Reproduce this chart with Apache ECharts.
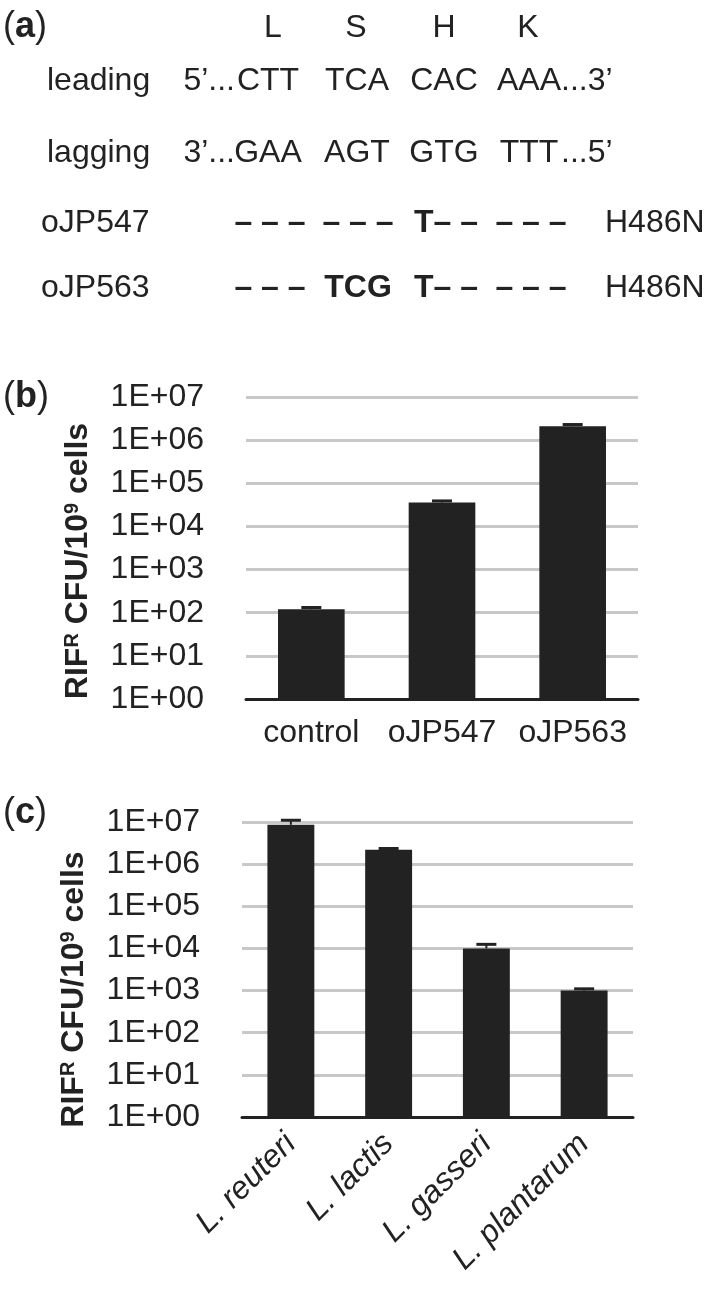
<!DOCTYPE html>
<html>
<head>
<meta charset="utf-8">
<script src="https://cdn.jsdelivr.net/npm/echarts@6.0.0/dist/echarts.min.js"></script>
<style>
  html, body { margin: 0; padding: 0; background: #fff; }
  #chart { width: 716px; height: 1290px; }
</style>
</head>
<body>
<div id="chart"></div>
<script>
// panel (a): sequence alignment
const aminoAcids = ['L', 'S', 'H', 'K'];
const leadingCodons = ['CTT', 'TCA', 'CAC', 'AAA'];
const laggingCodons = ['GAA', 'AGT', 'GTG', 'TTT'];
const oligoNames = ['oJP547', 'oJP563'];
const oligoCodons = [
  ['– – –', '– – –', 'T– –', '– – –'],
  ['– – –', 'TCG', 'T– –', '– – –']
];
const oligoMutations = ['H486N', 'H486N'];

// panel (b)
const bCategories = ['control', 'oJP547', 'oJP563'];
const bValues = [120, 36000, 2100000];
const bErrUpper = [132, 39000, 2300000];

// panel (c)
const cCategories = ['L. reuteri', 'L. lactis', 'L. gasseri', 'L. plantarum'];
const cValues = [8600000, 2200000, 10000, 1000];
const cErrUpper = [11000000, 2350000, 12500, 1100];

const FONT = 'Liberation Sans';
const INK = '#222';
const AFONT = '32px "' + FONT + '"';
const colX = [273, 356, 444, 528];
const codonX = [268, 357, 444, 529];

const chart = echarts.init(document.getElementById('chart'));

// texte du panneau (a)
const txt = (x, y, s, opts) => ({
  type: 'text', x: x, y: y, silent: true,
  style: Object.assign({
    text: s, fill: INK, font: AFONT,
    align: 'left', verticalAlign: 'middle'
  }, opts || {})
});

const panelLabel = (letter, y) => ({
  type: 'text', x: 3, y: y, silent: true,
  style: {
    text: '{p|(}{b|' + letter + '}{p|)}', fill: INK,
    verticalAlign: 'middle',
    rich: {
      p: { fontSize: 36, fontFamily: FONT, fill: INK },
      b: { fontSize: 36, fontFamily: FONT, fontWeight: 'bold', fill: INK }
    }
  }
});

const graphics = [panelLabel('a', 27), panelLabel('b', 397), panelLabel('c', 813)];

aminoAcids.forEach((aa, i) => graphics.push(txt(colX[i], 28, aa, { align: 'center' })));

graphics.push(txt(47, 81, 'leading'));
graphics.push(txt(235, 81, '5’...', { align: 'right' }));
leadingCodons.forEach((c, i) => graphics.push(txt(codonX[i], 81, c, { align: 'center' })));
graphics.push(txt(561, 81, '...3’'));

graphics.push(txt(47, 153, 'lagging'));
graphics.push(txt(235, 153, '3’...', { align: 'right' }));
laggingCodons.forEach((c, i) => graphics.push(txt(codonX[i], 153, c, { align: 'center' })));
graphics.push(txt(561, 153, '...5’'));

const oligoY = [223, 288];
const oligoX = [270, 358, 446, 531];
oligoNames.forEach((name, r) => {
  graphics.push(txt(41, oligoY[r], name));
  oligoCodons[r].forEach((c, i) => graphics.push(
    txt(oligoX[i], oligoY[r], c, { align: 'center', font: 'bold ' + AFONT })
  ));
  graphics.push(txt(605, oligoY[r], oligoMutations[r]));
});

const decade = v => '1E+' + String(Math.round(Math.log10(v))).padStart(2, '0');

const yName = '{b|RIF}{s|R}{b| CFU/10}{s|9}{b| cells}';
const yNameStyle = padTop => ({
  color: INK,
  padding: [0, padTop, 0, 0],
  rich: {
    b: { fontSize: 32, fontWeight: 'bold', fontFamily: FONT, color: INK },
    s: { fontSize: 20, fontWeight: 'bold', fontFamily: FONT, color: INK, verticalAlign: 'top' }
  }
});

const makeY = (idx, padTop) => ({
  type: 'log', logBase: 10, gridIndex: idx, min: 1, max: 1e7,
  axisLine: { show: false },
  axisTick: { show: false },
  splitLine: { show: true, lineStyle: { color: '#c8c8c8', width: 3 } },
  axisLabel: { fontSize: 32, fontFamily: FONT, color: INK, margin: 42, formatter: decade },
  name: yName, nameLocation: 'middle', nameRotate: 90, nameGap: 152,
  nameTextStyle: yNameStyle(padTop)
});

const errorSeries = (idx, values, upper) => ({
  type: 'custom',
  xAxisIndex: idx, yAxisIndex: idx,
  z: 5,
  data: values.map((v, i) => [i, v, upper[i]]),
  renderItem: (params, api) => {
    const base = api.coord([api.value(0), api.value(1)]);
    const top = api.coord([api.value(0), api.value(2)]);
    return {
      type: 'group',
      children: [
        { type: 'line', shape: { x1: base[0], y1: base[1], x2: top[0], y2: top[1] },
          style: { stroke: INK, lineWidth: 2 } },
        { type: 'line', shape: { x1: top[0] - 10, y1: top[1], x2: top[0] + 10, y2: top[1] },
          style: { stroke: INK, lineWidth: 3 } }
      ]
    };
  }
});

const option = {
  animation: false,
  backgroundColor: '#fff',
  graphic: graphics,
  grid: [
    { left: 246, top: 397, width: 392, height: 302 },
    { left: 242, top: 822, width: 391, height: 295 }
  ],
  xAxis: [
    {
      type: 'category', gridIndex: 0, data: bCategories,
      axisLine: { lineStyle: { color: INK, width: 3 } },
      axisTick: { show: false },
      axisLabel: { fontSize: 32, fontFamily: FONT, color: INK, margin: 18, interval: 0,
                   hideOverlap: false }
    },
    {
      type: 'category', gridIndex: 1, data: cCategories,
      axisLine: { lineStyle: { color: INK, width: 3 } },
      axisTick: { show: false },
      axisLabel: { fontSize: 32, fontFamily: FONT, fontStyle: 'italic', color: INK,
                   rotate: 45, margin: 22, interval: 0 }
    }
  ],
  yAxis: [makeY(0, 26), makeY(1, 40)],
  series: [
    { type: 'bar', xAxisIndex: 0, yAxisIndex: 0, data: bValues, barWidth: '51%',
      itemStyle: { color: INK } },
    errorSeries(0, bValues, bErrUpper),
    { type: 'bar', xAxisIndex: 1, yAxisIndex: 1, data: cValues, barWidth: '48%',
      itemStyle: { color: INK } },
    errorSeries(1, cValues, cErrUpper)
  ]
};

chart.setOption(option);
</script>
</body>
</html>
